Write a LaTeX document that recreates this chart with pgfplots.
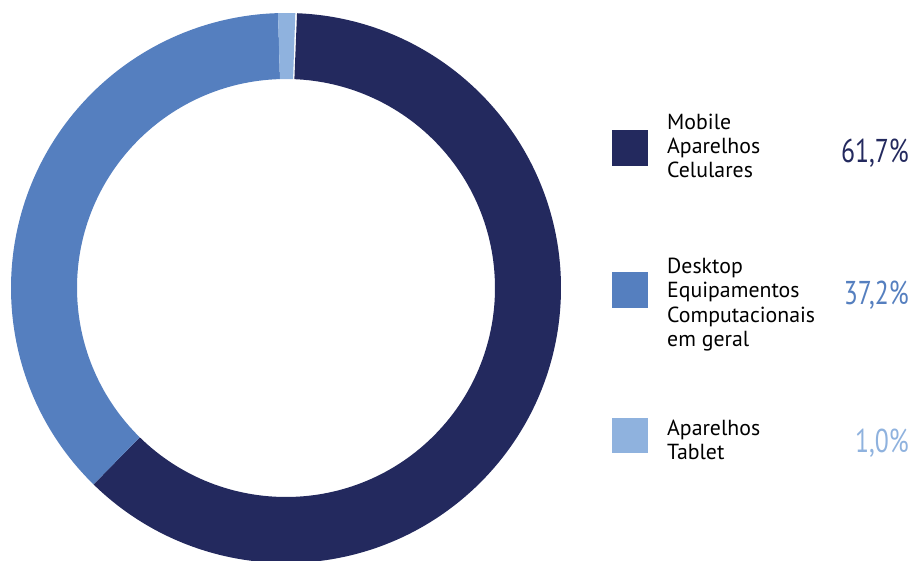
\documentclass[border=0pt]{standalone}
\usepackage{fontspec}
\setmainfont{PT Sans}
\newfontfamily\pctfont[FakeStretch=0.78]{PT Sans}
\usepackage{pgfplots}
\usepackage{pgfplotstable}
\pgfplotsset{compat=1.18}

\definecolor{cmobile}{HTML}{23295E}
\definecolor{cdesk}{HTML}{557FBF}
\definecolor{ctab}{HTML}{8FB2DE}

% share of access by device, percent
\pgfplotstableread{
device value
Mobile 61.7
Desktop 37.2
Tablet 1.0
}\donutdata

\begin{document}
\begin{tikzpicture}
% angles of the slices, clockwise from the top
\pgfmathsetmacro{\aStart}{87.7}
\pgfplotstablegetelem{0}{value}\of\donutdata
\pgfmathsetmacro{\aA}{\aStart-3.6*\pgfplotsretval}
\pgfplotstablegetelem{1}{value}\of\donutdata
\pgfmathsetmacro{\aB}{\aA-3.6*\pgfplotsretval}
\pgfplotstablegetelem{2}{value}\of\donutdata
\pgfmathsetmacro{\aC}{\aB-3.6*\pgfplotsretval}
\def\Ro{275pt}
\def\Ri{209pt}
\begin{axis}[
    name=ax,
    x=1pt, y=1pt,
    xmin=0, xmax=917, ymin=0, ymax=560,
    hide axis,
    clip mode=global,
]
\coordinate (c) at (axis cs:286,272);
\fill[cmobile] (c) ++(\aStart:\Ro) arc[start angle=\aStart, end angle=\aA, radius=\Ro]
    -- ([shift={(\aA:\Ri)}]c) arc[start angle=\aA, end angle=\aStart, radius=\Ri] -- cycle;
\fill[cdesk] (c) ++(\aA:\Ro) arc[start angle=\aA, end angle=\aB, radius=\Ro]
    -- ([shift={(\aB:\Ri)}]c) arc[start angle=\aB, end angle=\aA, radius=\Ri] -- cycle;
\fill[ctab] (c) ++(\aB:\Ro) arc[start angle=\aB, end angle=\aC, radius=\Ro]
    -- ([shift={(\aC:\Ri)}]c) arc[start angle=\aC, end angle=\aB, radius=\Ri] -- cycle;

% legend
\fill[cmobile] (axis cs:612,394) rectangle (axis cs:648,430);
\fill[cdesk] (axis cs:612,252) rectangle (axis cs:648,288);
\fill[ctab] (axis cs:612,107) rectangle (axis cs:648,142);

\tikzset{lab/.style={anchor=base west, inner sep=0pt, font=\fontsize{21.8}{24}\selectfont}}
\tikzset{pct/.style={anchor=base east, inner sep=0pt, font=\pctfont\fontsize{33}{36}\selectfont}}
\node[lab] at (axis cs:667,430) {Mobile};
\node[lab] at (axis cs:667,406) {Aparelhos};
\node[lab] at (axis cs:667,382) {Celulares};
\node[lab] at (axis cs:667,286) {Desktop};
\node[lab] at (axis cs:667,262) {Equipamentos};
\node[lab] at (axis cs:667,238) {Computacionais};
\node[lab] at (axis cs:667,214) {em geral};
\node[lab] at (axis cs:667,125) {Aparelhos};
\node[lab] at (axis cs:667,101) {Tablet};

\node[pct, text=cmobile] at (axis cs:909,397) {61,7\%};
\node[pct, text=cdesk] at (axis cs:909,255) {37,2\%};
\node[pct, text=ctab] at (axis cs:909,108) {1,0\%};
\end{axis}
\pgfresetboundingbox
\path (ax.south west) rectangle (ax.north east);
\end{tikzpicture}
\end{document}
